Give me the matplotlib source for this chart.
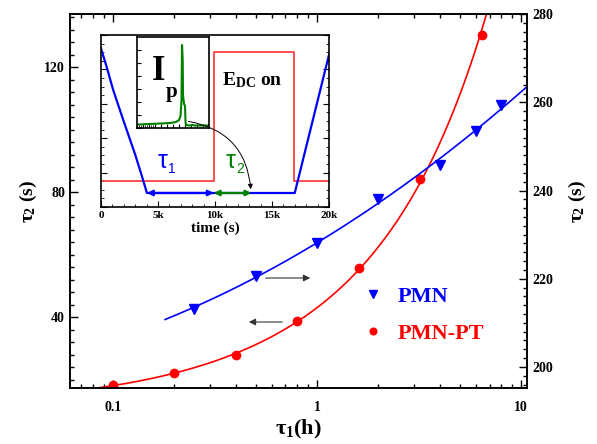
import numpy as np
import matplotlib
matplotlib.use('Agg')
import matplotlib.pyplot as plt
from matplotlib.ticker import MultipleLocator, FixedLocator, NullFormatter, LogLocator

plt.rcParams['font.family'] = 'Liberation Serif'
plt.rcParams['font.weight'] = 'bold'
plt.rcParams['axes.labelweight'] = 'bold'
plt.rcParams['mathtext.fontset'] = 'custom'
plt.rcParams['mathtext.rm'] = 'Liberation Serif:bold'
plt.rcParams['mathtext.bf'] = 'Liberation Serif:bold'
plt.rcParams['mathtext.it'] = 'Liberation Serif:bold'
plt.rcParams['axes.linewidth'] = 1.2

# main data
pmn_t1 = [0.25, 0.5, 1.0, 2.0, 4.0, 6.0, 8.0]
pmn_t2 = [213.2, 220.7, 228.2, 238.0, 245.7, 253.4, 259.5]
pt_t1 = [0.1, 0.2, 0.4, 0.8, 1.6, 3.2, 6.4]
pt_t2 = [18.2, 22.1, 27.8, 38.7, 55.7, 84.2, 130.2]

# inset: protocol vs time
field_t = [0, 9900, 9900, 16900, 16900, 20000]
field_v = [0.15, 0.15, 0.90, 0.90, 0.15, 0.15]
temp_t = [0, 500, 1080, 1960, 2980, 3500, 4040, 17000, 20000]
temp_v = [0.924, 0.816, 0.68, 0.506, 0.31, 0.20, 0.081, 0.081, 0.884]

# nested inset: Ip peak (arbitrary units)
ip_x = [0, 13, 23, 33, 39, 42, 43.5, 44.5, 45, 45.7, 46, 47, 48, 48.5, 49, 53, 56, 57, 72]
ip_y = [3.5, 4, 4.5, 5, 6, 8, 12, 28, 83, 68, 33, 24, 22, 6, 3, 2.5, 3.2, 2.5, 2.5]

fig = plt.figure(figsize=(5.97, 4.44), dpi=100)
ax = fig.add_axes([0.117, 0.126, 0.766, 0.842])
ax2 = ax.twinx()

# fits through the measured points
lx = np.log10(np.array(pmn_t1))
cb = np.polyfit(lx, pmn_t2, 2)
xb = np.logspace(np.log10(0.18), np.log10(11), 200)
ax2.plot(xb, np.polyval(cb, np.log10(xb)), color='blue', lw=1.2)
lr = np.log10(np.array(pt_t1))
cr = np.polyfit(lr, np.log10(pt_t2), 2)
xr = np.logspace(np.log10(0.06), np.log10(11), 300)
ax.plot(xr, 10 ** np.polyval(cr, np.log10(xr)), color='red', lw=1.2)

l1, = ax2.plot(pmn_t1, pmn_t2, 'v', color='blue', ms=7, ls='none', label='PMN')
l2, = ax.plot(pt_t1, pt_t2, 'o', color='red', ms=6, ls='none', label='PMN-PT')

ax.set_xscale('log')
ax.set_xlim(0.0615, 10.7)
ax.set_ylim(17.3, 137)
ax2.set_ylim(195.2, 280)
ax.yaxis.set_major_locator(FixedLocator([40, 80, 120]))
ax.yaxis.set_minor_locator(MultipleLocator(4))
ax2.yaxis.set_major_locator(MultipleLocator(20))
ax2.yaxis.set_minor_locator(MultipleLocator(2))
ax.xaxis.set_major_locator(FixedLocator([0.1, 1, 10]))
ax.xaxis.set_major_formatter(plt.FuncFormatter(lambda v, p: '%g' % v))
ax.xaxis.set_minor_locator(LogLocator(base=10, subs=np.arange(2, 10)))
ax.xaxis.set_minor_formatter(NullFormatter())
for a in (ax, ax2):
    a.tick_params(which='both', direction='in', labelsize=10)
    a.tick_params(which='major', length=6, width=1)
    a.tick_params(which='minor', length=3, width=1)
ax.tick_params(which='both', top=True)
ax.tick_params(axis='x', pad=9)
ax.set_xlabel(r'$\tau_1$(h)', fontsize=16, labelpad=3)
ax.set_ylabel(r'$\tau_2$ (s)', fontsize=14, labelpad=4)
ax2.set_ylabel(r'$\tau_2$ (s)', fontsize=14, labelpad=10)

ax2.annotate('', xy=(313 / 597, 1 - 278 / 444), xytext=(263 / 597, 1 - 278 / 444),
             xycoords='figure fraction', textcoords='figure fraction',
             arrowprops=dict(arrowstyle='-|>', color='#333333', lw=0.8, mutation_scale=10))
ax2.annotate('', xy=(246 / 597, 1 - 322 / 444), xytext=(285 / 597, 1 - 322 / 444),
             xycoords='figure fraction', textcoords='figure fraction',
             arrowprops=dict(arrowstyle='-|>', color='#333333', lw=0.8, mutation_scale=10))

leg = ax2.legend(handles=[l1, l2], loc='upper left', bbox_to_anchor=(364 / 597, 1 - 286 / 444),
                 bbox_transform=fig.transFigure, frameon=False, fontsize=16,
                 labelcolor=['blue', 'red'], handlelength=0.8, handletextpad=0.7,
                 labelspacing=0.75, borderaxespad=0, borderpad=0, markerscale=0.8)

# inset
axi = fig.add_axes([0.169, 0.534, 0.382, 0.387])
axi.plot(field_t, field_v, color='#ff4040', lw=1.3)
axi.plot(temp_t, temp_v, color='blue', lw=1.6)
axi.annotate('', xy=(4040, 0.081), xytext=(9900, 0.081),
             arrowprops=dict(arrowstyle='<|-|>', color='blue', lw=1.6, mutation_scale=8, shrinkA=0, shrinkB=0))
axi.annotate('', xy=(9900, 0.081), xytext=(13200, 0.081),
             arrowprops=dict(arrowstyle='<|-|>', color='green', lw=1.6, mutation_scale=8, shrinkA=0, shrinkB=0))
axi.set_xlim(0, 20000)
axi.set_ylim(0, 1)
axi.xaxis.set_major_locator(MultipleLocator(5000))
axi.xaxis.set_minor_locator(MultipleLocator(1000))
axi.xaxis.set_major_formatter(plt.FuncFormatter(lambda v, p: '0' if v == 0 else '%dk' % (v / 1000)))
axi.yaxis.set_major_locator(MultipleLocator(0.2))
axi.yaxis.set_minor_locator(MultipleLocator(0.05))
axi.yaxis.set_major_formatter(NullFormatter())
axi.tick_params(which='both', direction='in', right=True, labelsize=8, pad=3)
axi.tick_params(which='major', length=4)
axi.tick_params(which='minor', length=2)
axi.set_xlabel('time (s)', fontsize=11, labelpad=1)
sans = dict(family='Liberation Sans', weight='normal', va='center', transform=axi.transAxes)
axi.text(0.27, 0.27, '\u03c4', color='blue', fontsize=18, ha='center', **sans)
axi.text(0.31, 0.22, '1', color='blue', fontsize=10, ha='center', **sans)
axi.text(0.57, 0.27, '\u03c4', color='green', fontsize=18, ha='center', **sans)
axi.text(0.61, 0.22, '2', color='green', fontsize=10, ha='center', **sans)
axi.text(0.53, 0.74, r'E$_{\mathrm{DC}}$ on', fontsize=14, transform=axi.transAxes, va='center')

# nested inset
axn = fig.add_axes([0.2295, 0.7117, 0.1206, 0.205])
axn.plot(ip_x, ip_y, color='green', lw=1.5)
axn.set_xlim(0, 72)
axn.set_ylim(0, 91)
axn.set_xticks(np.arange(0, 72, 6))
axn.xaxis.set_minor_locator(FixedLocator([2, 4, 8, 10, 14, 16]))
axn.set_yticks(np.arange(0, 91, 13))
axn.tick_params(which='both', direction='in', labelbottom=False, labelleft=False, length=3)
axn.tick_params(which='minor', length=2)
axn.text(0.2, 0.62, 'I', fontsize=25, transform=axn.transAxes, va='center')
axn.text(0.4, 0.4, 'p', fontsize=15, transform=axn.transAxes, va='center')

fig.patches.append(matplotlib.patches.FancyArrowPatch(
    (186 / 597, 1 - 121 / 444), (251 / 597, 1 - 192 / 444), transform=fig.transFigure,
    connectionstyle='arc3,rad=-0.4', arrowstyle='-|>', mutation_scale=7, lw=0.7, color='black'))

fig.savefig('out.png', dpi=100)
